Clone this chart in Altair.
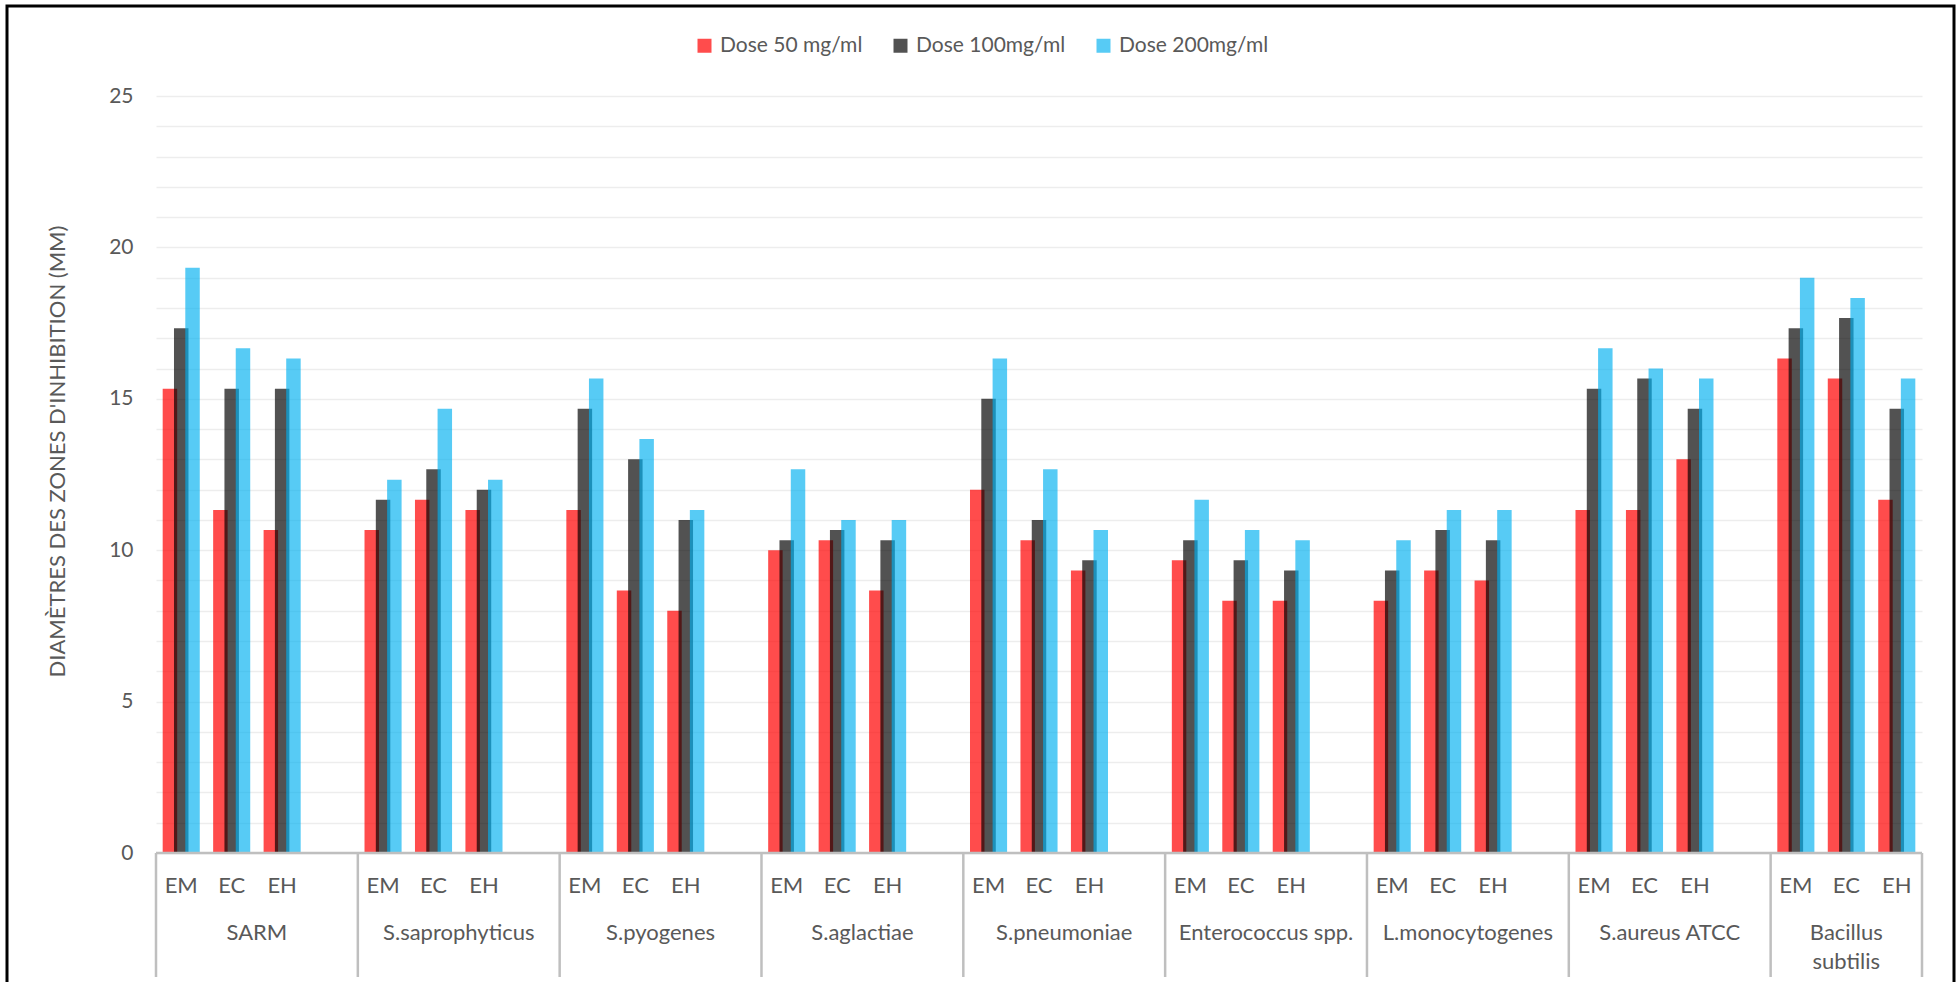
import altair as alt
import pandas as pd

# Categories
organisms = ["SARM", "S.saprophyticus", "S.pyogenes", "S.aglactiae", "S.pneumoniae",
             "Enterococcus spp.", "L.monocytogenes", "S.aureus ATCC", "Bacillus\nsubtilis"]
extracts = ["EM", "EC", "EH"]
doses = ["Dose 50 mg/ml", "Dose 100mg/ml", "Dose 200mg/ml"]

# Inhibition zone diameters (mm), ordered organism by organism, EM / EC / EH
dose_50 = [15.33, 11.33, 10.67, 10.67, 11.67, 11.33, 11.33, 8.67, 8.0,
           10.0, 10.33, 8.67, 12.0, 10.33, 9.33, 9.67, 8.33, 8.33,
           8.33, 9.33, 9.0, 11.33, 11.33, 13.0, 16.33, 15.67, 11.67]
dose_100 = [17.33, 15.33, 15.33, 11.67, 12.67, 12.0, 14.67, 13.0, 11.0,
            10.33, 10.67, 10.33, 15.0, 11.0, 9.67, 10.33, 9.67, 9.33,
            9.33, 10.67, 10.33, 15.33, 15.67, 14.67, 17.33, 17.67, 14.67]
dose_200 = [19.33, 16.67, 16.33, 12.33, 14.67, 12.33, 15.67, 13.67, 11.33,
            12.67, 11.0, 11.0, 16.33, 12.67, 10.67, 11.67, 10.67, 10.33,
            10.33, 11.33, 11.33, 16.67, 16.0, 15.67, 19.0, 18.33, 15.67]

y_ticks = list(range(0, 26))

colors = ["#FF0000", "#000000", "#00B0F0"]
opacities = [0.7, 0.66, 0.7]
TEXT = "#595959"
AXIS_LINE = "#BFBFBF"
FONT = "Lato"

W, H = 1766, 757
PER_GROUP = 4                      # three extracts + one empty spacer slot
N_SLOTS = len(organisms) * PER_GROUP - 1
STEP = 0.224                       # distance between neighbouring dose bars (slot units)
BW = 0.287                         # bar width (slot units)

rows = []
for di, (dose, vals) in enumerate(zip(doses, [dose_50, dose_100, dose_200])):
    for gi, org in enumerate(organisms):
        for ei, ext in enumerate(extracts):
            rows.append({"dose": dose, "dose_i": di, "organism": org, "extract": ext,
                         "slot": gi * PER_GROUP + ei, "value": vals[gi * 3 + ei]})
bars_df = pd.DataFrame(rows)

ext_df = pd.DataFrame([{"slot": gi * PER_GROUP + ei, "extract": ext}
                       for gi in range(len(organisms)) for ei, ext in enumerate(extracts)])
grp_df = pd.DataFrame([{"organism": org,
                        "start": gi * PER_GROUP,
                        "end": min(gi * PER_GROUP + PER_GROUP, N_SLOTS)}
                       for gi, org in enumerate(organisms)])
sep_df = pd.DataFrame({"b": [gi * PER_GROUP for gi in range(len(organisms))] + [N_SLOTS]})
one_df = pd.DataFrame({"k": [0]})

xscale = alt.Scale(domain=[0, N_SLOTS], nice=False, zero=False)
yscale = alt.Scale(domain=[0, 25], nice=False, zero=True)

bars = alt.Chart(bars_df).transform_calculate(
    x0=f"datum.slot + 0.5 + (datum.dose_i - 1) * {STEP} - {BW / 2}",
    x1=f"datum.slot + 0.5 + (datum.dose_i - 1) * {STEP} + {BW / 2}",
).mark_bar().encode(
    x=alt.X("x0:Q", scale=xscale, axis=None),
    x2="x1:Q",
    y=alt.Y("value:Q", scale=yscale,
            axis=alt.Axis(values=y_ticks,
                          labelExpr="datum.value % 5 === 0 ? datum.label : ''",
                          grid=True, gridColor="#EDEDED", gridWidth=1.5,
                          ticks=False, domain=False,
                          labelFont=FONT, labelFontSize=21, labelColor=TEXT, labelPadding=23,
                          title="DIAMÈTRES DES ZONES D'INHIBITION (MM)",
                          titleFont=FONT, titleFontSize=22, titleFontWeight="normal",
                          titleColor=TEXT, titleAngle=270, titleX=-99, titleY=355,
                          titleAlign="center", titleBaseline="middle")),
    y2=alt.datum(0),
    color=alt.Color("dose:N", scale=alt.Scale(domain=doses, range=colors),
                    legend=alt.Legend(orient="none", legendX=538, legendY=-61,
                                      direction="horizontal", title=None,
                                      symbolType="square", symbolSize=196,
                                      symbolStrokeWidth=0, labelFont=FONT,
                                      labelFontSize=21, labelColor=TEXT,
                                      labelOffset=5, columnPadding=27, padding=0)),
    opacity=alt.Opacity("dose:N", scale=alt.Scale(domain=doses, range=opacities)),
)

baseline = alt.Chart(one_df).mark_rule(color=AXIS_LINE, strokeWidth=2.5).encode(
    x=alt.value(0), x2=alt.value(W), y=alt.value(H))

separators = alt.Chart(sep_df).mark_rule(color=AXIS_LINE, strokeWidth=2.5).encode(
    x=alt.X("b:Q", scale=xscale, axis=None),
    y=alt.value(H), y2=alt.value(H + 124))

ext_labels = alt.Chart(ext_df).transform_calculate(
    xc="datum.slot + 0.5"
).mark_text(font=FONT, fontSize=22, color=TEXT, baseline="middle", align="center").encode(
    x=alt.X("xc:Q", scale=xscale, axis=None),
    y=alt.value(H + 33), text="extract:N")

grp_labels = alt.Chart(grp_df).transform_calculate(
    xc="(datum.start + datum.end) / 2"
).mark_text(font=FONT, fontSize=22, color=TEXT, baseline="top", align="center",
            lineBreak="\n", lineHeight=29).encode(
    x=alt.X("xc:Q", scale=xscale, axis=None),
    y=alt.value(H + 70), text="organism:N")

frame = alt.Chart(one_df).mark_rect(fillOpacity=0, stroke="black", strokeWidth=3).encode(
    x=alt.value(-149), x2=alt.value(1798), y=alt.value(-90), y2=alt.value(H + 160))

chart = alt.layer(bars, baseline, separators, ext_labels, grp_labels, frame).properties(
    width=W, height=H,
    autosize=alt.AutoSizeParams(type="none"),
    padding={"left": 156, "top": 96, "right": 37, "bottom": 129},
    background="white",
).configure_view(stroke=None)

chart.save("out.html", embed_options={"renderer": "svg", "actions": False})
